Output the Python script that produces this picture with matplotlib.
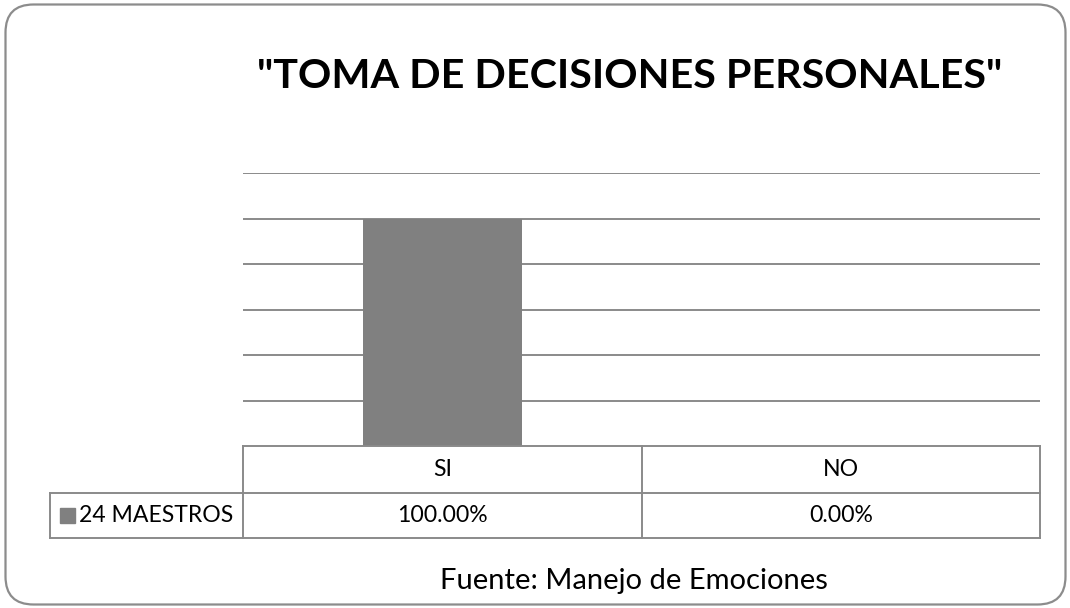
import matplotlib
matplotlib.use("Agg")
import matplotlib.pyplot as plt
from matplotlib.patches import FancyBboxPatch, Rectangle
from matplotlib.lines import Line2D

W, H, DPI = 1070, 608, 100

title = '"TOMA DE DECISIONES PERSONALES"'
categories = ["SI", "NO"]
series_name = "24 MAESTROS"
values = [1.0, 0.0]
source = "Fuente: Manejo de Emociones"

GRID = "#8a8a8a"
BAR = "#808080"
FONT = ["Lato", "DejaVu Sans"]
plt.rcParams["font.family"] = FONT


def fx(x):
    return x / W


def fy(y):
    return 1 - y / H


fig = plt.figure(figsize=(W / DPI, H / DPI), dpi=DPI)

# rounded outer border (inch units so the corners stay round)
fig.patches.append(FancyBboxPatch((5.5 / DPI, 3.5 / DPI), 1060 / DPI, 600 / DPI,
                                  boxstyle="round,pad=0,rounding_size=0.28",
                                  transform=fig.dpi_scale_trans, fill=False,
                                  ec="#8c8c8c", lw=1.6))

fig.text(fx(630), fy(76), title, ha="center", va="center",
         fontsize=29.7, weight="bold", color="black")

# plot area
left, right, top, base = 243, 1040, 173.5, 446
ax = fig.add_axes([fx(left), fy(base), fx(right - left), (base - top) / H])
ax.bar(range(len(categories)), values, width=0.4, color=BAR, zorder=2)
ax.set_xlim(-0.5, len(categories) - 0.5)
ax.set_ylim(0, 1.2)
ax.set_yticks([0.2, 0.4, 0.6, 0.8, 1.0, 1.2])
ax.yaxis.grid(True, color=GRID, lw=1.4, zorder=1)
ax.set_xticks([])
ax.tick_params(left=False, labelleft=False)
for s in ax.spines.values():
    s.set_visible(False)

# data table
ncol = len(categories)
colw = (right - left) / ncol
row1, row2, row3 = 446, 493, 538
key_left = 50
TS = 16.6


def hline(x0, x1, y):
    fig.lines.append(Line2D([fx(x0), fx(x1)], [fy(y), fy(y)],
                            transform=fig.transFigure, color=GRID, lw=1.4))


def vline(x, y0, y1):
    fig.lines.append(Line2D([fx(x), fx(x)], [fy(y0), fy(y1)],
                            transform=fig.transFigure, color=GRID, lw=1.4))


hline(left, right, row1)
hline(key_left, right, row2)
hline(key_left, right, row3)
vline(key_left, row2, row3)
for i in range(ncol + 1):
    vline(left + i * colw, row1, row3)

for i, (c, v) in enumerate(zip(categories, values)):
    cx = left + (i + 0.5) * colw
    fig.text(fx(cx), fy((row1 + row2) / 2), c, ha="center", va="center",
             fontsize=TS)
    fig.text(fx(cx), fy((row2 + row3) / 2), f"{v * 100:.2f}%", ha="center",
             va="center", fontsize=TS)

fig.patches.append(Rectangle((fx(60), fy(523)), fx(15), 15 / H,
                             transform=fig.transFigure, color=BAR))
fig.text(fx(79), fy((row2 + row3) / 2), series_name, ha="left", va="center",
         fontsize=TS)

fig.text(fx(634), fy(581), source, ha="center", va="center", fontsize=21)

fig.savefig("out.png", dpi=DPI)
